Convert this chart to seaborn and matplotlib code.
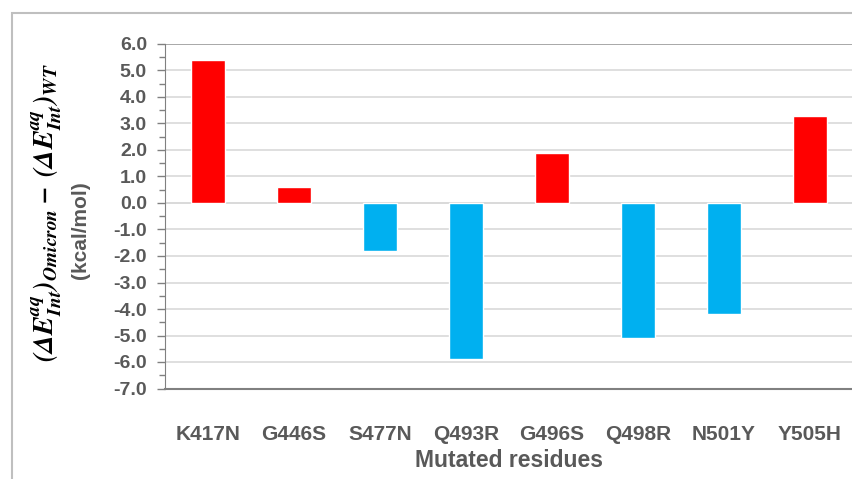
import matplotlib
matplotlib.use("Agg")
import matplotlib.pyplot as plt
import seaborn as sns
import pandas as pd
import numpy as np
from matplotlib.patches import Rectangle
from matplotlib.ticker import MultipleLocator

residues = ["K417N", "G446S", "S477N", "Q493R", "G496S", "Q498R", "N501Y", "Y505H"]
values = [5.4, 0.6, -1.8, -5.9, 1.9, -5.1, -4.2, 3.3]
y_ticks = [6.0, 5.0, 4.0, 3.0, 2.0, 1.0, 0.0, -1.0, -2.0, -3.0, -4.0, -5.0, -6.0, -7.0]

RED = "#FF0000"
BLUE = "#00B0F0"
GRAY = "#595959"

df = pd.DataFrame({"res": residues, "val": values})
palette = {r: (RED if v > 0 else BLUE) for r, v in zip(residues, values)}

sns.set_style("white")
plt.rcParams['font.family'] = ['Liberation Sans', 'DejaVu Sans']
plt.rcParams['mathtext.fontset'] = 'stix'

fig = plt.figure(figsize=(8.53, 4.79), dpi=100)
ax = fig.add_axes([165/853, 1-388.5/479, 1-165/853, (388.5-44)/479])

sns.barplot(data=df, x="res", y="val", hue="res", palette=palette, legend=False,
            width=0.4, gap=0, ax=ax, saturation=1, zorder=3)

ax.set_xlim(-0.5, 7.5)
ax.set_ylim(-7, 6)
ax.set_yticks(y_ticks)
ax.set_yticklabels([f"{t:.1f}" for t in y_ticks])
ax.yaxis.set_minor_locator(MultipleLocator(0.5))
ax.grid(axis="y", which="major", color="#D9D9D9", linewidth=1.2, zorder=0)
ax.set_axisbelow(True)

for s in ["top", "right"]:
    ax.spines[s].set_visible(False)
ax.spines["left"].set_color("#808080")
ax.spines["bottom"].set_color("#808080")
ax.spines["bottom"].set_linewidth(1.5)
ax.axhline(0, color="#D9D9D9", linewidth=1.2, zorder=1)
ax.axhline(6, color="#A0A0A0", linewidth=1.2, zorder=1)

ax.tick_params(axis="y", which="major", direction="out", length=6, width=1, color="#808080",
               left=True, labelsize=14, labelcolor=GRAY, pad=7)
ax.tick_params(axis="y", which="minor", direction="out", length=4, width=1, color="#808080", left=True)
ax.tick_params(axis="x", length=0, labelsize=15, labelcolor=GRAY, pad=26)
for lab in ax.get_yticklabels() + ax.get_xticklabels():
    lab.set_fontweight("bold")

ax.set_xlabel("Mutated residues", fontsize=16.5, fontweight="bold", color=GRAY, labelpad=4)
ax.set_ylabel("")

fig.text(47/853, 1-213/479,
         r"$\mathbfit{(\Delta E^{aq}_{Int})_{Omicron}-\ (\Delta E^{aq}_{Int})_{WT}}$",
         rotation=90, ha="center", va="center", fontsize=20, color="black")
fig.text(81/853, 1-230/479, "(kcal/mol)", rotation=90, ha="center", va="center",
         fontsize=15, fontweight="bold", color=GRAY)

fig.patches.append(Rectangle((12/853, -0.1), 1.2, 1 - 13/479 + 0.1, transform=fig.transFigure,
                             fill=False, edgecolor="#BFBFBF", linewidth=1.5, zorder=0))

fig.savefig("out.png", dpi=100)
